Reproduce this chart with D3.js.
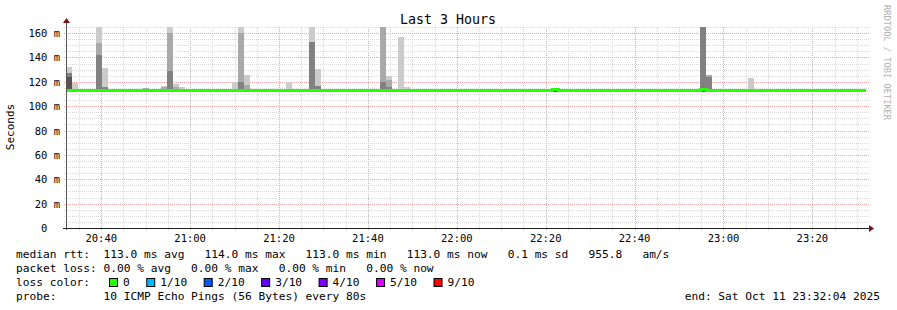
<!DOCTYPE html>
<html>
<head>
<meta charset="utf-8">
<script src="https://cdn.jsdelivr.net/npm/d3@7"></script>
<style>
  body { margin:0; background:#fff; }
  svg text { font-family:"DejaVu Sans Mono", monospace; white-space:pre; }
</style>
</head>
<body>
<svg id="chart" width="897" height="310"></svg>
<script>
// ---- data ----
var title = "Last 3 Hours";
var startTime = "2025-10-11T20:32:04";
var endTime   = "2025-10-11T23:32:04";
var firstSample = "2025-10-11T20:32:09";
var stepSeconds = 80;

var yTicks = [0, 20, 40, 60, 80, 100, 120, 140, 160];   // ms
var yMax = 165;

// smoke columns: step, lowest ping, then top of each grey band (darkest -> lightest), ms
var smoke = [
  [0,   113, 124,  127,  null, 132],
  [1,   113, null, null, null, 119],
  [5,   113, null, 142,  152,  165],
  [6,   113, null, 116,  null, 131],
  [13,  113, null, null, 114.8, null],
  [16,  113, null, null, 115.5, 116.5],
  [17,  113, null, 129,  160,  165],
  [18,  113, null, null, 116,  118],
  [19,  113, null, null, null, 115.7],
  [28,  113, null, null, null, 120],
  [29,  113, null, 120,  160,  165],
  [30,  113, null, null, 117,  126],
  [37,  113, null, null, null, 120],
  [41,  113, null, 153,  null, 165],
  [42,  113, null, 116.7, null, 130.4],
  [53,  113, null, 119.7, 165, null],
  [54,  113, null, 116,  121.4, 124.7],
  [56,  113, null, null, null, 156.7],
  [57,  113, null, null, null, 115.7],
  [82,  112, 114,  null, null, null],
  [107, 112, 114,  165,  null, null],
  [108, 113, null, 124,  126,  null],
  [115, 113, null, null, null, 123]
];
var smokeShades = ["#555555", "#818181", "#a9a9a9", "#cbcbcb"];

// median rtt: step where value changes, value (ms)
var medianSteps  = [0,   82,  83,  107, 108, 135];
var medianValues = [113, 114, 113, 114, 113, 113];
var medianColor = "#26ff00";

var legendRtt  = "median rtt:  113.0 ms avg   114.0 ms max   113.0 ms min   113.0 ms now   0.1 ms sd   955.8   am/s";
var legendLoss = "packet loss: 0.00 % avg   0.00 % max   0.00 % min   0.00 % now";
var lossLabels = ["0", "1/10", "2/10", "3/10", "4/10", "5/10", "9/10"];
var lossColors = ["#26ff00", "#00b8ff", "#0059ff", "#5e00ff", "#7e00ff", "#dd00ff", "#ff0000"];
var probeText = "probe:       10 ICMP Echo Pings (56 Bytes) every 80s";
var endText = "end: Sat Oct 11 23:32:04 2025";
var credit = "RRDTOOL / TOBI OETIKER";

// ---- drawing ----
var svg = d3.select("#chart");
var plot = {left: 66, right: 866, top: 27, bottom: 228};
var parse = d3.timeParse("%Y-%m-%dT%H:%M:%S");
var t0 = parse(startTime), t1 = parse(endTime), s0 = parse(firstSample);

var x = d3.scaleTime().domain([t0, t1]).range([plot.left, plot.right]);
var y = d3.scaleLinear().domain([0, yMax]).range([plot.bottom, plot.top]);

function stepTime(i){ return new Date(s0.getTime() + i * stepSeconds * 1000); }

svg.append("rect").attr("width", 897).attr("height", 310).attr("fill", "#fff");

// grid
var grid = svg.append("g").attr("shape-rendering", "crispEdges");
var minorX = x.ticks(d3.timeMinute.every(5));
var minorY = d3.range(0, yMax + 0.01, 5);

grid.selectAll(".gx").data(minorX).enter().append("line")
  .attr("x1", function(d){ return Math.round(x(d)) + 0.5; })
  .attr("x2", function(d){ return Math.round(x(d)) + 0.5; })
  .attr("y1", plot.top).attr("y2", plot.bottom + 2)
  .attr("stroke", function(d){ return d.getMinutes() % 20 == 0 ? "#eea4a4" : "#dadada"; })
  .attr("stroke-dasharray", "1,1");

grid.selectAll(".gy").data(minorY).enter().append("line")
  .attr("x1", plot.left - 2).attr("x2", plot.right + 3)
  .attr("y1", function(d){ return Math.round(y(d)) + 0.5; })
  .attr("y2", function(d){ return Math.round(y(d)) + 0.5; })
  .attr("stroke", function(d){ return d % 20 == 0 ? "#eea4a4" : "#dadada"; })
  .attr("stroke-dasharray", "1,1");

// smoke
svg.append("clipPath").attr("id", "plotclip").append("rect")
  .attr("x", plot.left).attr("y", plot.top)
  .attr("width", plot.right - plot.left).attr("height", plot.bottom - plot.top);

var smokeG = svg.append("g").attr("clip-path", "url(#plotclip)").attr("shape-rendering", "crispEdges");
smoke.forEach(function(row){
  var xa = x(stepTime(row[0])), xb = x(stepTime(row[0] + 1));
  var prev = row[1];
  for (var k = 0; k < 4; k++) {
    var top = row[k + 2];
    if (top == null) continue;
    smokeG.append("rect")
      .attr("x", Math.round(xa)).attr("width", Math.round(xb) - Math.round(xa))
      .attr("y", Math.round(y(top))).attr("height", Math.round(y(prev)) - Math.round(y(top)))
      .attr("fill", smokeShades[k]);
    prev = top;
  }
});

// median line
var medPts = medianSteps.map(function(s, i){ return [s, medianValues[i]]; });
var medLine = d3.line()
  .x(function(d){ return Math.min(x(stepTime(d[0])), plot.right); })
  .y(function(d){ return y(d[1]); })
  .curve(d3.curveStepAfter);
svg.append("path").datum(medPts)
  .attr("d", medLine)
  .attr("fill", "none").attr("stroke", medianColor).attr("stroke-width", 3)
  .attr("shape-rendering", "crispEdges");

// axes
var axisG = svg.append("g").attr("shape-rendering", "crispEdges");
axisG.append("line").attr("x1", plot.left + 0.5).attr("x2", plot.left + 0.5)
  .attr("y1", plot.bottom + 2).attr("y2", plot.top - 5).attr("stroke", "#555");
axisG.append("line").attr("x1", plot.left - 3).attr("x2", plot.right + 4)
  .attr("y1", plot.bottom + 0.5).attr("y2", plot.bottom + 0.5).attr("stroke", "#222");
svg.append("path")
  .attr("d", "M" + (plot.left - 3) + "," + (plot.top - 4) + "L" + (plot.left + 0.5) + "," + (plot.top - 9) + "L" + (plot.left + 4) + "," + (plot.top - 4) + "Z")
  .attr("fill", "#7a1010");
svg.append("path")
  .attr("d", "M" + (plot.right + 3) + "," + (plot.bottom - 3) + "L" + (plot.right + 8) + "," + (plot.bottom + 0.5) + "L" + (plot.right + 3) + "," + (plot.bottom + 4) + "Z")
  .attr("fill", "#7a1010");

// y tick labels
svg.append("g").selectAll("text").data(yTicks).enter().append("text")
  .attr("x", 60).attr("y", function(d){ return y(d) + 4; })
  .attr("text-anchor", "end").attr("font-size", 10.5).attr("fill", "#000")
  .text(function(d){ return d == 0 ? "0  " : d + " m"; });

// x tick labels
var xMajor = x.ticks(d3.timeMinute.every(20));
svg.append("g").selectAll("text").data(xMajor).enter().append("text")
  .attr("x", function(d){ return x(d); }).attr("y", 242)
  .attr("text-anchor", "middle").attr("font-size", 10.5).attr("fill", "#000")
  .text(d3.timeFormat("%H:%M"));

// title and labels
svg.append("text").attr("x", 448).attr("y", 24).attr("text-anchor", "middle")
  .attr("font-size", 13.3).text(title);
svg.append("text").attr("transform", "translate(14,127) rotate(-90)")
  .attr("text-anchor", "middle").attr("font-size", 11).text("Seconds");
svg.append("text").attr("transform", "translate(884,5) rotate(90)")
  .attr("font-size", 8.7).attr("fill", "#b0b0b0").text(credit);

// legend
var leg = svg.append("g").attr("font-size", 11.2).attr("fill", "#000");
leg.append("text").attr("x", 16).attr("y", 258).text(legendRtt);
leg.append("text").attr("x", 16).attr("y", 272).text(legendLoss);
leg.append("text").attr("x", 16).attr("y", 286).text("loss color:");
leg.append("text").attr("x", 16).attr("y", 300).text(probeText);
leg.append("text").attr("x", 880).attr("y", 300).attr("text-anchor", "end").text(endText);

var bx = 109;
lossLabels.forEach(function(lab, i){
  leg.append("rect").attr("x", bx + 0.5).attr("y", 278.5).attr("width", 8).attr("height", 8)
    .attr("fill", lossColors[i]).attr("stroke", "#000").attr("stroke-width", 1);
  var t = leg.append("text").attr("x", bx + 14).attr("y", 286).text(lab);
  bx = bx + 14 + t.node().getComputedTextLength() + 16.5;
});
</script>
</body>
</html>
